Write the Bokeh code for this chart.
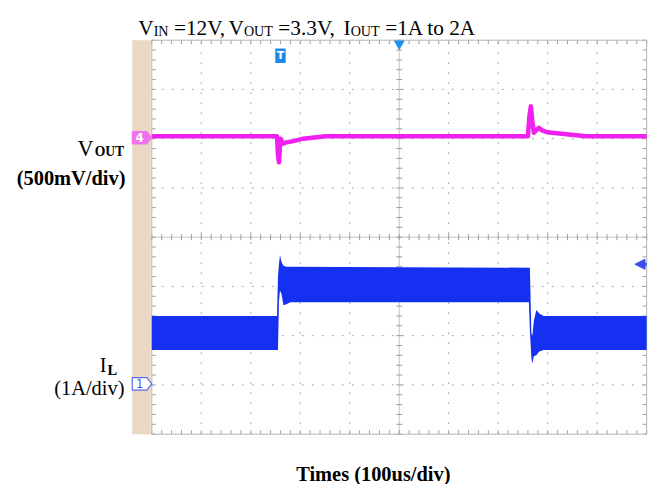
import numpy as np
from bokeh.plotting import figure
from bokeh.models import Range1d, Arrow, NormalHead
from bokeh.core.properties import value
from bokeh.embed import file_html
from bokeh.resources import INLINE

# ---------------- data (time in us, amplitude in scope divisions) ----------------
vout_t = [-500, -247, -245, -243, -240, -235, -230, -214, -194, -149,
          260, 263, 266, 269, 272, 277, 282, 289, 299, 338, 378, 500]
vout_div = [2.05, 2.05, 1.66, 1.52, 2.00, 1.90, 1.92, 1.95, 2.00, 2.05,
            2.05, 2.45, 2.66, 2.35, 2.12, 2.17, 2.22, 2.17, 2.13, 2.09, 2.05, 2.05]

il_t = [-500, -247, -245, -243, -241, -238, -234, -228, -220,
        262, 264, 267, 269, 272, 277, 283, 292, 500]
il_hi = [-1.60, -1.60, -0.80, -0.55, -0.36, -0.50, -0.58, -0.60, -0.60,
         -0.62, -0.62, -1.95, -2.00, -1.70, -1.48, -1.55, -1.60, -1.60]
il_lo = [-2.29, -2.29, -2.29, -1.30, -1.09, -1.15, -1.38, -1.36, -1.32,
         -1.32, -1.90, -2.45, -2.57, -2.42, -2.40, -2.32, -2.29, -2.29]

vout_ground = 2.02   # channel 4 reference level (div)
il_ground = -2.98    # channel 1 reference level (div)
trig_level = -0.55   # trigger level (div)
trig_time = -240     # "T" marker time (us)

title_parts = [("V", "main"), ("IN", "sub"), (" =12V,", "main"), ("V", "main"),
               ("OUT", "sub"), (" =3.3V,", "main"), (" I", "main"), ("OUT", "sub"),
               (" =1A to 2A", "main")]

# ---------------- geometry (reference-image pixels -> data) ----------------
REF_W, REF_H = 669, 500
W, H = 653, 484
K = 0.97                   # pixel size scale of the figure vs reference
GX0, GX1 = 155, 662        # grid edges in reference pixels
GY0, GY1 = 41, 448
US_PER_PX = 1000.0 / (GX1 - GX0)
DIV_PER_PX = 8.0 / (GY1 - GY0)


def tx(xi):
    return (xi - (GX0 + GX1) / 2.0) * US_PER_PX


def ty(yi):
    return ((GY0 + GY1) / 2.0 - yi) * DIV_PER_PX


p = figure(width=W, height=H,
           x_range=Range1d(tx(0), tx(REF_W)), y_range=Range1d(ty(REF_H), ty(0)),
           output_backend="svg", toolbar_location=None,
           x_axis_location=None, y_axis_location=None, min_border=0)
p.grid.visible = False
p.outline_line_color = None
p.background_fill_color = "white"
p.border_fill_color = "white"

# tan strip at the left of the screen
p.quad(left=tx(135), right=tx(154), top=4, bottom=-4, fill_color="#EAD8C4", line_color=None)

# dotted grid
gx = [-400, -300, -200, -100, 100, 200, 300, 400]
p.segment(x0=gx, y0=[-4] * len(gx), x1=gx, y1=[4] * len(gx),
          line_color="#A8A8A8", line_width=1, line_dash="2 8")
gy = [-3, -2, -1, 1, 2, 3]
p.segment(x0=[-500] * len(gy), y0=gy, x1=[500] * len(gy), y1=gy,
          line_color="#A8A8A8", line_width=1, line_dash="2 8")

# center cross with ticks
p.segment(x0=[0, -500], y0=[-4, 0], x1=[0, 500], y1=[4, 0], line_color="#C4C4C4", line_width=1)
tk_x = np.arange(-500, 501, 20)
tk_y = np.arange(-4, 4.001, 0.2)
p.segment(x0=tk_x, y0=-0.06, x1=tk_x, y1=0.06, line_color="#9A9A9A", line_width=1)
p.segment(x0=-6, y0=tk_y, x1=6, y1=tk_y, line_color="#9A9A9A", line_width=1)
# border ticks
p.segment(x0=tk_x, y0=4, x1=tk_x, y1=3.92, line_color="#A0A0A0", line_width=1)
p.segment(x0=tk_x, y0=-4, x1=tk_x, y1=-3.92, line_color="#A0A0A0", line_width=1)
p.segment(x0=-500, y0=tk_y, x1=-492, y1=tk_y, line_color="#A0A0A0", line_width=1)
p.segment(x0=500, y0=tk_y, x1=492, y1=tk_y, line_color="#A0A0A0", line_width=1)
# border
p.quad(left=-500, right=500, top=4, bottom=-4, fill_alpha=0, line_color="#B4B4B4", line_width=1)

# traces
p.varea(x=il_t, y1=il_lo, y2=il_hi, fill_color="#1530F0")
p.line(vout_t, vout_div, line_color="#F020F0", line_width=4.5, line_join="round")


# channel markers
def marker_shape(yc):
    h = 6.5 * DIV_PER_PX
    xs = [tx(135), tx(150), tx(155), tx(150), tx(135)]
    ys = [yc + h, yc + h, yc, yc - h, yc - h]
    return xs, ys


xs4, ys4 = marker_shape(vout_ground)
p.patch(xs4, ys4, fill_color="#F070F0", line_color="#F070F0")
xs1, ys1 = marker_shape(il_ground)
p.patch(xs1, ys1, fill_color="white", line_color="#5A6AF0", line_width=1.2)


def txt(xi, yi, s, size, bold=False, align="left", color="black", font="Liberation Serif",
        baseline="alphabetic"):
    p.text(x=[tx(xi)], y=[ty(yi)], text=[s], text_font=value(font),
           text_font_size=f"{size * K:.1f}px",
           text_font_style="bold" if bold else "normal", text_align=align,
           text_baseline=baseline, text_color=color)


txt(142.5, 244.5 - vout_ground / DIV_PER_PX, "4", 12, bold=True, align="center",
    color="white", font="DejaVu Sans", baseline="middle")
txt(142.5, 244.5 - il_ground / DIV_PER_PX, "1", 12, align="center", color="#4A5AF0",
    font="DejaVu Sans", baseline="middle")

# trigger time marker "T"
p.rect(x=[trig_time], y=[ty(57)], width=21, height=15 * DIV_PER_PX,
       fill_color="#1E88E8", line_color=None)
p.text(x=[trig_time], y=[ty(57)], text=["T"], text_font=value("DejaVu Sans"),
       text_font_size="11px", text_font_style="bold", text_align="center",
       text_baseline="middle", text_color="white")

# trigger position (top centre) and trigger level (right)
p.scatter(x=[0], y=[ty(44.5)], marker="inverted_triangle", size=11,
          fill_color="#1E90F0", line_color=None)
p.add_layout(Arrow(end=NormalHead(size=10, fill_color="#3A4EF0", line_color="#3A4EF0"),
                   x_start=500, y_start=trig_level, x_end=tx(650), y_end=trig_level,
                   line_color="#3A4EF0", line_width=3))

# title with subscripts, laid out sequentially with Times metrics
ADV = {"V": .722, "I": .333, "N": .722, "O": .722, "U": .722, "T": .611, "=": .564,
       ",": .25, ".": .25, " ": .25, "A": .722, "t": .278, "o": .5}
TS, SS = 22, 14.5
cx = 141.0
for s, kind in title_parts:
    size = TS if kind == "main" else SS
    body = s.lstrip(" ")
    cx += (len(s) - len(body)) * .25 * TS
    txt(cx, 28 if kind == "main" else 31.5, body, size)
    cx += sum(ADV.get(ch, .5) for ch in body) * size

# channel labels
txt(79, 153.3, "V", 23)
txt(96.5, 155.5, "OUT", 14, bold=True)
txt(128, 183, "(500mV/div)", 21, bold=True, align="right")
txt(101.7, 376.7, "I", 21)
txt(109.5, 381.7, "L", 15, bold=True)
txt(127, 400, "(1A/div)", 21, align="right")

# time axis label
txt(382, 489, "Times (100us/div)", 21, bold=True, align="center")

open("out.html", "w").write(file_html(p, INLINE))
